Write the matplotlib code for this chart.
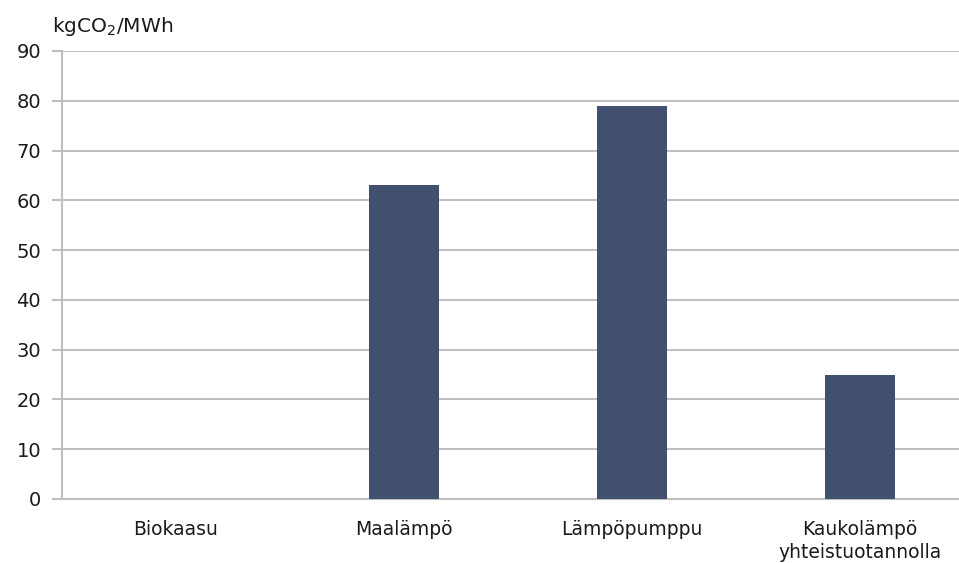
import matplotlib.pyplot as plt

categories = ['Biokaasu', 'Maalämpö', 'Lämpöpumppu', 'Kaukolämpö\nyhteistuotannolla']
values = [0, 63, 79, 25]
yticks = [0, 10, 20, 30, 40, 50, 60, 70, 80, 90]

plt.rcParams['font.family'] = ['DejaVu Sans']
plt.rcParams['mathtext.fontset'] = 'dejavusans'

fig = plt.figure(figsize=(9.59, 5.63), dpi=100)
# plot area runs past the right edge of the figure
ax = fig.add_axes([62 / 959, 64 / 563, 912 / 959, 448 / 563])

x = range(len(categories))
ax.bar(x, values, width=0.31, color='#41506E', zorder=3)

ax.set_xlim(-0.5, 3.5)
ax.set_ylim(0, 90)
ax.set_yticks(yticks)
ax.set_xticks(list(x))
ax.set_xticklabels(categories, fontsize=13.5, color='#1a1a1a', linespacing=1.3)
ax.tick_params(axis='y', labelsize=14, colors='#1a1a1a', length=7, width=1.5,
               color='#BFBFBF', pad=8)
ax.tick_params(axis='x', length=0, pad=15)

ax.grid(axis='y', color='#C0C0C0', linewidth=1.5, zorder=0)
for s in ['top', 'right']:
    ax.spines[s].set_visible(False)
ax.spines['left'].set_color('#BFBFBF')
ax.spines['left'].set_linewidth(1.5)
ax.spines['bottom'].set_color('#BFBFBF')
ax.spines['bottom'].set_linewidth(1.5)

fig.text(52 / 959, 1 - 27 / 563, 'kgCO$_2$/MWh', fontsize=14.5, color='#1a1a1a',
         va='center', ha='left')

fig.savefig('out.png', dpi=100)
